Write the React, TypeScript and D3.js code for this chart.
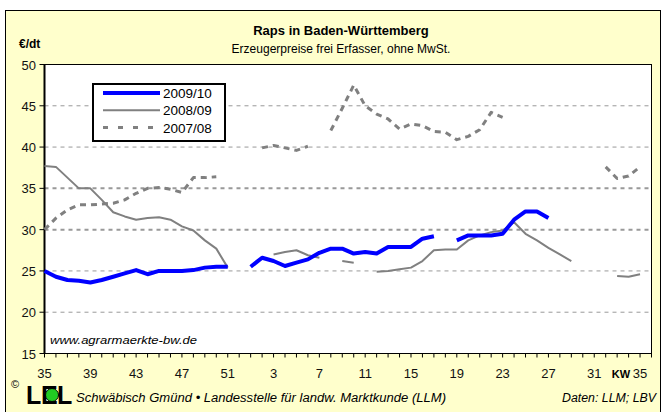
import React from "react";
import * as d3 from "d3";

// Kalenderwochen 35 .. 35 (+1 leere Woche am Ende der Achse)
const weekLabels = ["35", "39", "43", "47", "51", "3", "7", "11", "15", "19", "23", "27", "31", "35"];

// Preise in €/dt, ein Wert pro Woche, null = keine Notierung
const s2009_10 = [
  25.0, 24.3, 23.9, 23.8, 23.6, 23.9, 24.3, 24.7, 25.1, 24.6, 25.0, 25.0, 25.0, 25.1, 25.4, 25.5, 25.5,
  null,
  25.5, 26.6, 26.2, 25.6, 26.0, 26.4, 27.2, 27.7, 27.7, 27.1, 27.3, 27.1, 27.9, 27.9, 27.9, 28.9, 29.2,
  null,
  28.7, 29.3, 29.3, 29.3, 29.5, 31.2, 32.2, 32.2, 31.4,
  null, null, null, null, null, null, null, null,
];

const s2008_09 = [
  37.7, 37.6, 36.3, 35.0, 35.0, 33.6, 32.1, 31.6, 31.2, 31.4, 31.5, 31.2, 30.4, 29.9, 28.7, 27.7, 25.4,
  null, null, null,
  27.0, 27.3, 27.5, 26.9, 26.6,
  null,
  26.2, 26.0,
  null,
  24.9, 25.0, 25.2, 25.4, 26.2, 27.5, 27.6, 27.6, 28.7, 29.3, 29.7, 29.9, 30.9, 29.5, 28.7, 27.8, 27.0, 26.2,
  null, null, null,
  24.4, 24.3, 24.6,
];

const s2007_08 = [
  30.0, 31.4, 32.4, 33.0, 33.0, 33.1, 33.2, 33.6, 34.4, 35.0, 35.1, 34.9, 34.5, 36.3, 36.3, 36.4,
  null, null, null,
  39.9, 40.2, 39.9, 39.6, 40.1,
  null,
  42.0, 44.7, 47.5, 45.0, 44.0, 43.4, 42.2, 42.8, 42.6, 41.9, 41.8, 40.9, 41.3, 42.1, 44.2, 43.6,
  null, null, null, null, null, null, null, null,
  37.6, 36.2, 36.5, 37.6,
];

const yTicks = [15, 20, 25, 30, 35, 40, 45, 50];
const gridValues = [20, 25, 30, 35, 40, 45];
const heavyGrid = [30, 35];

const seriesNames = ["2009/10", "2008/09", "2007/08"];

const sans = "Arial, 'Liberation Sans', sans-serif";

export default function App() {
  const x = d3.scaleLinear().domain([0, 53]).range([44.5, 651.5]);
  const y = d3.scaleLinear().domain([15, 50]).range([353.5, 64.5]);

  const line = d3
    .line<number | null>()
    .defined((d) => d != null)
    .x((d, i) => x(i))
    .y((d) => y(d as number));

  const weekTicks = d3.range(0, 54);

  const styles = [
    { color: "#0000FF", width: 4, dash: undefined, legendDash: undefined },
    { color: "#808080", width: 2, dash: undefined, legendDash: undefined },
    { color: "#808080", width: 3, dash: "6 5", legendDash: "5 10" },
  ];
  const series = [s2009_10, s2008_09, s2007_08];

  return (
    <div style={{ position: "absolute", left: 0, top: 0 }}>
      <svg width={665} height={412} style={{ display: "block" }}>
        <rect x={5.5} y={10.5} width={655} height={405} fill="#FFFFCC" stroke="#000" strokeWidth={1} />

        {/* Titel */}
        <text x={341} y={35} textAnchor="middle" fontFamily={sans} fontWeight="bold" fontSize={13}>
          Raps in Baden-Württemberg
        </text>
        <text x={341} y={53} textAnchor="middle" fontFamily={sans} fontSize={12}>
          Erzeugerpreise frei Erfasser, ohne MwSt.
        </text>
        <text x={19} y={48} fontFamily={sans} fontWeight="bold" fontSize={12}>
          €/dt
        </text>

        {/* Plotfläche */}
        <rect x={x(0)} y={y(50)} width={x(53) - x(0)} height={y(15) - y(50)} fill="#fff" stroke="#000" strokeWidth={1} />

        {gridValues.map((v) => (
          <line
            key={v}
            x1={x(0)}
            x2={x(53)}
            y1={y(v)}
            y2={y(v)}
            stroke="#999"
            strokeWidth={heavyGrid.includes(v) ? 2 : 1}
            strokeDasharray="4 4"
          />
        ))}

        {/* y-Achse */}
        <line x1={x(0)} x2={x(0)} y1={y(50)} y2={y(15)} stroke="#000" strokeWidth={2} />
        {yTicks.map((v) => (
          <g key={v}>
            <line x1={x(0) - 5} x2={x(0)} y1={y(v)} y2={y(v)} stroke="#000" strokeWidth={1} />
            <text x={36} y={y(v) + 5} textAnchor="end" fontFamily={sans} fontSize={13} fill="#111">
              {v}
            </text>
          </g>
        ))}

        {/* x-Achse */}
        <line x1={x(0)} x2={x(53)} y1={y(15)} y2={y(15)} stroke="#000" strokeWidth={1} />
        {weekTicks.map((i) => (
          <line key={i} x1={x(i)} x2={x(i)} y1={y(15)} y2={y(15) + 4} stroke="#000" strokeWidth={1} />
        ))}
        {weekLabels.map((l, j) => (
          <text key={j} x={x(j * 4)} y={378} textAnchor="middle" fontFamily={sans} fontSize={13} fill="#111">
            {l}
          </text>
        ))}
        <text x={x(52) - 10} y={378} textAnchor="end" fontFamily={sans} fontWeight="bold" fontSize={11}>
          KW
        </text>

        <text x={50} y={344} fontFamily={sans} fontStyle="italic" fontSize={11} textLength={147} lengthAdjust="spacingAndGlyphs">
          www.agrarmaerkte-bw.de
        </text>

        {/* Linien */}
        {series.map((s, k) => (
          <path
            key={k}
            d={line(s) || ""}
            fill="none"
            stroke={styles[k].color}
            strokeWidth={styles[k].width}
            strokeDasharray={styles[k].dash}
            strokeLinejoin="round"
          />
        )).reverse()}

        {/* Legende */}
        <rect x={93} y={84} width={132} height={57} fill="#fff" stroke="#000" strokeWidth={2} />
        {seriesNames.map((n, k) => {
          const ly = 93 + k * 17.3;
          return (
            <g key={n}>
              <line
                x1={103}
                x2={160}
                y1={ly}
                y2={ly}
                stroke={styles[k].color}
                strokeWidth={styles[k].width}
                strokeDasharray={styles[k].legendDash}
              />
              <text x={163} y={ly + 5} fontFamily={sans} fontSize={13.5}>
                {n}
              </text>
            </g>
          );
        })}

        {/* Fußzeile */}
        <text x={11} y={388} fontFamily={sans} fontSize={11}>
          ©
        </text>
        <text x={26} y={404} fontFamily={sans} fontWeight="bold" fontSize={25}>
          L
        </text>
        <text x={41} y={404} fontFamily={sans} fontWeight="bold" fontSize={25}>
          E
        </text>
        <circle cx={52} cy={395} r={6.5} fill="#22CC22" stroke="#000" strokeWidth={1} />
        <text x={57} y={404} fontFamily={sans} fontWeight="bold" fontSize={25}>
          L
        </text>
        <text x={76} y={402} fontFamily={sans} fontStyle="italic" fontSize={12} textLength={370} lengthAdjust="spacingAndGlyphs">
          Schwäbisch Gmünd • Landesstelle für landw. Marktkunde (LLM)
        </text>
        <text x={562} y={402} fontFamily={sans} fontStyle="italic" fontSize={12} textLength={94} lengthAdjust="spacingAndGlyphs">
          Daten: LLM; LBV
        </text>
      </svg>
    </div>
  );
}
